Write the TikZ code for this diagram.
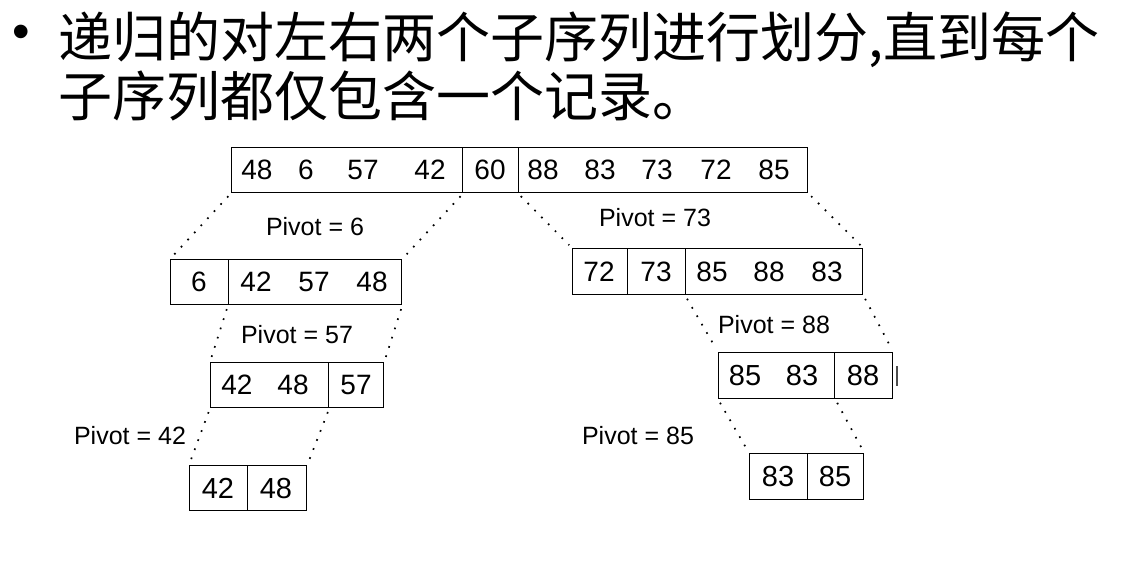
\documentclass[tikz,border=0pt]{standalone}
\usepackage{fontspec}
\setmainfont{Liberation Sans}
\newfontfamily\cjk{Noto Sans CJK SC}
\begin{document}
\begin{tikzpicture}[x=1pt,y=-1pt,
  cell/.style={draw=black,line width=1.3pt,inner sep=0pt,anchor=north west},
  num/.style={inner sep=0pt,anchor=base,font=\fontsize{28}{28}\selectfont},
  bignum/.style={inner sep=0pt,anchor=base,font=\fontsize{29}{29}\selectfont},
  piv/.style={inner sep=0pt,anchor=base,font=\fontsize{25}{25}\selectfont},
  dots/.style={line width=1.7pt,dash pattern=on 1.7pt off 8pt,shorten <=4pt,shorten >=4pt},
  title/.style={inner sep=0pt,anchor=base west,font=\cjk\fontsize{54}{54}\selectfont}]
\fill[white] (0,0) rectangle (1134,577);
\useasboundingbox (0,0) rectangle (1134,577);
% title
\node[inner sep=0pt,font=\fontsize{50}{50}\selectfont] (bul) at (21,37) {•};
\node[title] (line1) at (58,58) {递归的对左右两个子序列进行划分,直到每个};
\node[title] (line2) at (58,117) {子序列都仅包含一个记录。};
% top array
\node[cell,minimum width=231pt,minimum height=45pt] (t1) at (231,147) {};
\node[cell,minimum width=56pt,minimum height=45pt] (t2) at (462,147) {};
\node[cell,minimum width=289pt,minimum height=45pt] (t3) at (518,147) {};
\foreach \v/\x in {48/257,6/306,57/363,42/430,60/490,88/543,83/600,73/657,72/716,85/774}
  \node[num] (nt\x) at (\x,179.5) {\v};
% level 2 left
\node[cell,minimum width=58pt,minimum height=45pt] (a1) at (170,259) {};
\node[cell,minimum width=173pt,minimum height=45pt] (a2) at (228,259) {};
\foreach \v/\x in {6/199,42/256,57/314,48/372}
  \node[num] (na\x) at (\x,291.5) {\v};
% level 2 right
\node[cell,minimum width=55pt,minimum height=46pt] (b1) at (572,248) {};
\node[cell,minimum width=58pt,minimum height=46pt] (b2) at (627,248) {};
\node[cell,minimum width=177pt,minimum height=46pt] (b3) at (685,248) {};
\foreach \v/\x in {72/599,73/656,85/712,88/769,83/827}
  \node[num] (nb\x) at (\x,281) {\v};
% level 3 left
\node[cell,minimum width=118pt,minimum height=45pt] (c1) at (210,362) {};
\node[cell,minimum width=55pt,minimum height=45pt] (c2) at (328,362) {};
\foreach \v/\x in {42/237,48/293,57/356}
  \node[num] (nc\x) at (\x,394.5) {\v};
% level 3 right
\node[cell,minimum width=116pt,minimum height=46pt] (d1) at (718,352) {};
\node[cell,minimum width=58pt,minimum height=46pt] (d2) at (834,352) {};
\foreach \v/\x in {85/745,83/802,88/863}
  \node[bignum] (nd\x) at (\x,385.5) {\v};
\coordinate (tka) at (897,366);
\coordinate (tkb) at (897,386);
\draw[line width=1.2pt,black!70] (tka) -- (tkb);
% level 4 left
\node[cell,minimum width=58pt,minimum height=45pt] (e1) at (189,465) {};
\node[cell,minimum width=59pt,minimum height=45pt] (e2) at (247,465) {};
\foreach \v/\x in {42/218,48/276}
  \node[bignum] (ne\x) at (\x,498) {\v};
% level 4 right
\node[cell,minimum width=58pt,minimum height=46pt] (f1) at (749,453) {};
\node[cell,minimum width=56pt,minimum height=46pt] (f2) at (807,453) {};
\foreach \v/\x in {83/778,85/835}
  \node[bignum] (nf\x) at (\x,486.5) {\v};
% pivot labels
\node[piv] (p6) at (315,236) {Pivot = 6};
\node[piv] (p73) at (655,226) {Pivot = 73};
\node[piv] (p57) at (297,343) {Pivot = 57};
\node[piv] (p88) at (774,333) {Pivot = 88};
\node[piv] (p42) at (130,444) {Pivot = 42};
\node[piv] (p85) at (638,444) {Pivot = 85};
% dotted connectors
\draw[dots] (t1.south west) -- (a1.north west);
\draw[dots] (t1.south east) -- (a2.north east);
\draw[dots] (t3.south west) -- (b1.north west);
\draw[dots] (t3.south east) -- (b3.north east);
\draw[dots] (a2.south west) -- (c1.north west);
\draw[dots] (a2.south east) -- (c2.north east);
\draw[dots] (b3.south west) -- (d1.north west);
\draw[dots] (b3.south east) -- (d2.north east);
\draw[dots] (c1.south west) -- (e1.north west);
\draw[dots] (c1.south east) -- (e2.north east);
\draw[dots] (d1.south west) -- (f1.north west);
\draw[dots] (d1.south east) -- (f2.north east);
\end{tikzpicture}
\end{document}
